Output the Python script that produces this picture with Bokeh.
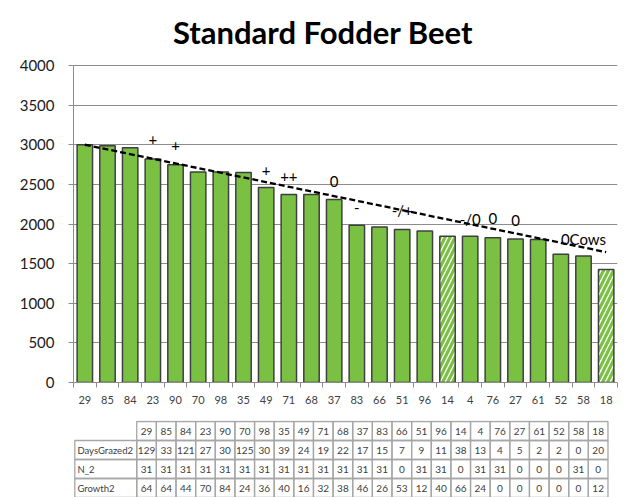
from bokeh.plotting import figure
from bokeh.models import Range1d, FixedTicker, ColumnDataSource, Label
from bokeh.layouts import column
from bokeh.embed import file_html
from bokeh.resources import INLINE
from bokeh.core.properties import value

# ---------------- data ----------------
categories = ["29", "85", "84", "23", "90", "70", "98", "35", "49", "71", "68", "37",
              "83", "66", "51", "96", "14", "4", "76", "27", "61", "52", "58", "18"]
beet_values = [3000, 2987, 2962, 2820, 2748, 2655, 2655, 2650, 2460, 2372, 2372, 2308,
               1984, 1963, 1930, 1912, 1845, 1845, 1828, 1811, 1803, 1618, 1597, 1426]
hatched_categories = ["14", "18"]

trend_categories = ["29", "18"]
trend_values = [3000, 1645]

label_categories = ["23", "90", "49", "71", "37", "83", "51", "4", "76", "27", "58"]
label_texts = ["+", "+", "+", "++", "0", "-", "-/+", "-/0", "0", "0", "0Cows"]
label_values = [3063, 2987, 2676, 2600, 2541, 2214, 2172, 2068, 2068, 2047, 1816]

y_ticks = [0, 500, 1000, 1500, 2000, 2500, 3000, 3500, 4000]

row_names = ["DaysGrazed2", "N_2", "Growth2"]
days_grazed2 = [129, 33, 121, 27, 30, 125, 30, 39, 24, 19, 22, 17,
                15, 7, 9, 11, 38, 13, 4, 5, 2, 2, 0, 20]
n_2 = [31, 31, 31, 31, 31, 31, 31, 31, 31, 31, 31, 31,
       31, 0, 31, 31, 0, 31, 31, 0, 0, 0, 31, 0]
growth2 = [64, 64, 44, 70, 84, 24, 36, 40, 16, 32, 38, 46,
           26, 53, 12, 40, 66, 24, 0, 0, 0, 0, 0, 12]

title_text = "Standard Fodder Beet"

# ---------------- layout constants ----------------
W = 628
CH = 420          # chart height
TH = 77           # table height
LEFT = 73
RIGHT = 11
TOP_AXIS = 65     # pixel row of the 4000 gridline
BOTTOM = 38
n = len(categories)
frame_w = W - LEFT - RIGHT
cw = frame_w / n  # px per category
YMAX = 4000
frame_h = CH - BOTTOM
ppu = (frame_h - TOP_AXIS) / YMAX
YTOP = frame_h / ppu

GREEN = "#7AC143"
EDGE = "#3F3F3F"
GRID = "#8C8C8C"
FONT = "Lato"

pos = {c: i + 0.5 for i, c in enumerate(categories)}
centers = [pos[c] for c in categories]

p = figure(width=W, height=CH, x_range=Range1d(0, n), y_range=Range1d(0, YTOP),
           output_backend="svg", toolbar_location=None,
           min_border_left=LEFT, min_border_right=RIGHT,
           min_border_top=0, min_border_bottom=BOTTOM)
p.outline_line_color = None
p.background_fill_color = "white"

# x axis: labels at centres, tick marks at category boundaries
xa = p.xaxis[0]
xa.ticker = FixedTicker(ticks=centers, minor_ticks=list(range(n + 1)))
xa.major_label_overrides = {c: lab for c, lab in zip(centers, categories)}
xa.major_tick_out = 0
xa.major_tick_in = 0
xa.minor_tick_out = 5
xa.minor_tick_in = 0
xa.minor_tick_line_color = GRID
xa.axis_line_color = GRID
xa.major_label_standoff = 8
xa.major_label_text_font = FONT
xa.major_label_text_font_size = "11px"
xa.major_label_text_color = "#404040"
p.xgrid.visible = False

ya = p.yaxis[0]
ya.ticker = FixedTicker(ticks=y_ticks, minor_ticks=[])
ya.bounds = (0, YMAX)
ya.major_tick_out = 5
ya.major_tick_in = 0
ya.major_tick_line_color = GRID
ya.axis_line_color = GRID
ya.major_label_standoff = 14
ya.major_label_text_font = FONT
ya.major_label_text_font_size = "15px"
ya.major_label_text_color = "#1a1a1a"
p.ygrid.ticker = FixedTicker(ticks=y_ticks)
p.ygrid.grid_line_color = GRID
p.ygrid.grid_line_width = 1

# bars
fills = ["white" if c in hatched_categories else GREEN for c in categories]
hatches = ["/" if c in hatched_categories else " " for c in categories]
src = ColumnDataSource(dict(x=centers, top=beet_values, fill=fills, hatch=hatches))
p.vbar(x="x", top="top", width=0.68, source=src, fill_color="fill",
       line_color=EDGE, line_width=1.5, hatch_pattern="hatch",
       hatch_color=GREEN, hatch_weight=3.2, hatch_scale=10)

# dashed trend line
p.line(x=[pos[c] for c in trend_categories], y=trend_values, line_color="black",
       line_width=2.3, line_dash="6 3")

# bar labels
p.text(x=[pos[c] for c in label_categories], y=label_values, text=label_texts,
       text_align="center", text_baseline="middle", text_font=value(FONT),
       text_font_size="15px", text_color="black")

# title (inside the extended frame, above the value axis)
p.add_layout(Label(x=(W / 2 + 8.5 - LEFT) / cw, y=(frame_h - 31) / ppu,
                   text=title_text, text_align="center", text_baseline="alphabetic",
                   text_font=FONT, text_font_size="31px", text_font_style="bold",
                   text_color="black"))

# ---------------- data table ----------------
ROW = 19
t = figure(width=W, height=TH,
           x_range=Range1d(-LEFT / cw, n + RIGHT / cw),
           y_range=Range1d((TH - 1) / ROW, -1 / ROW),
           output_backend="svg", toolbar_location=None,
           x_axis_location=None, y_axis_location=None, min_border=0)
t.outline_line_color = None
t.grid.visible = False

label_left = -LEFT / cw + 1.5 / cw
cells = dict(left=[], right=[], top=[], bottom=[])
texts = dict(x=[], y=[], text=[])
# header row
for i, c in enumerate(categories):
    cells["left"].append(i); cells["right"].append(i + 1)
    cells["top"].append(0); cells["bottom"].append(1)
    texts["x"].append(pos[c]); texts["y"].append(0.5); texts["text"].append(c)
row_texts = dict(x=[], y=[], text=[])
for r, (name, vals) in enumerate(zip(row_names, [days_grazed2, n_2, growth2]), start=1):
    cells["left"].append(label_left); cells["right"].append(0)
    cells["top"].append(r); cells["bottom"].append(r + 1)
    row_texts["x"].append(label_left + 3 / cw); row_texts["y"].append(r + 0.5)
    row_texts["text"].append(name)
    for i, v in enumerate(vals):
        cells["left"].append(i); cells["right"].append(i + 1)
        cells["top"].append(r); cells["bottom"].append(r + 1)
        texts["x"].append(pos[categories[i]]); texts["y"].append(r + 0.5)
        texts["text"].append(str(v))

t.quad(source=ColumnDataSource(cells), left="left", right="right", top="top",
       bottom="bottom", fill_color=None, line_color="#A6A6A6", line_width=1.3)
t.text(source=ColumnDataSource(texts), x="x", y="y", text="text",
       text_align="center", text_baseline="middle", text_font=value(FONT),
       text_font_size="10px", text_color="#404040")
t.text(source=ColumnDataSource(row_texts), x="x", y="y", text="text",
       text_align="left", text_baseline="middle", text_font=value(FONT),
       text_font_size="9.5px", text_color="#404040")

layout = column(p, t, spacing=0)
open("out.html", "w").write(file_html(layout, INLINE))
